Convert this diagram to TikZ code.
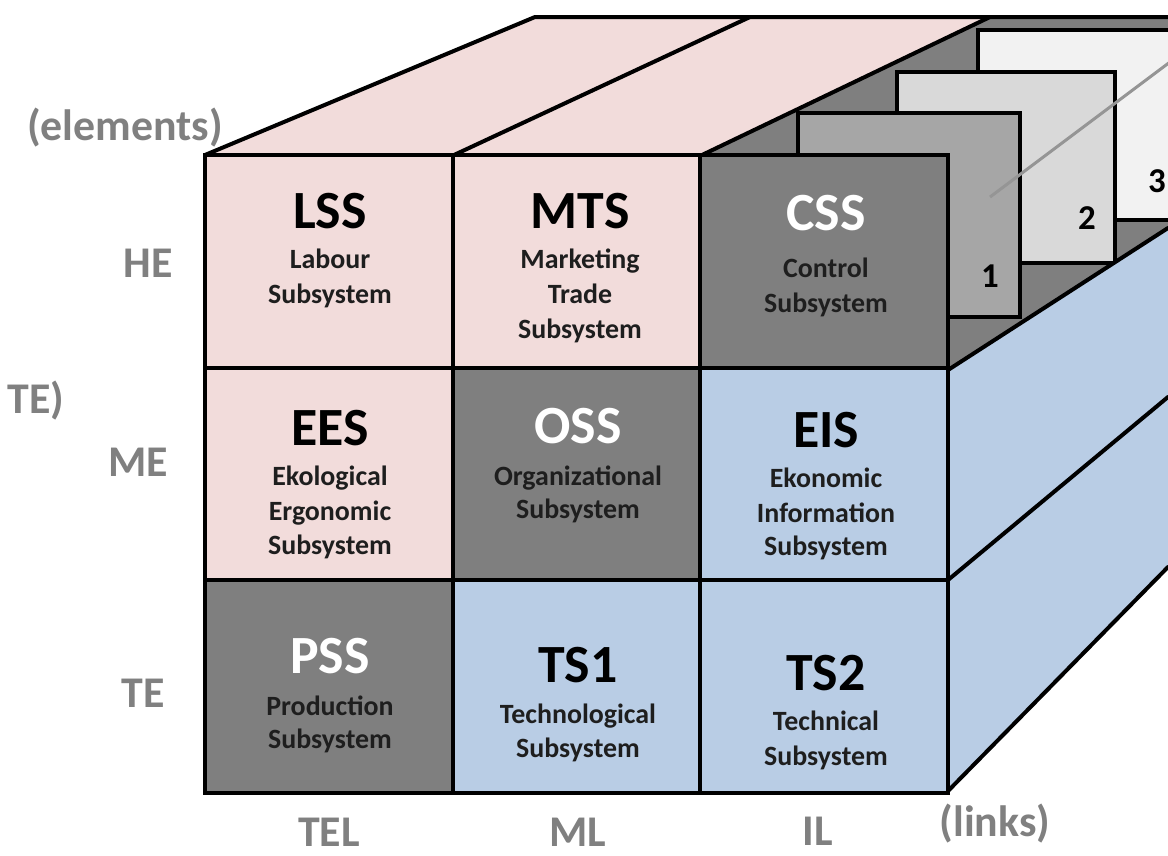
\documentclass[tikz,border=0pt]{standalone}
\usepackage{fontspec}
\setmainfont{Carlito}
\definecolor{pinkface}{HTML}{F2DCDB}
\definecolor{blueface}{HTML}{B9CDE5}
\definecolor{darkface}{HTML}{7F7F7F}
\definecolor{sliceA}{HTML}{A6A6A6}
\definecolor{sliceB}{HTML}{D9D9D9}
\definecolor{sliceC}{HTML}{F2F2F2}
\definecolor{axisgray}{HTML}{808080}
\definecolor{pointer}{HTML}{959595}
\definecolor{subtext}{HTML}{1E1E1E}
\begin{document}
\begin{tikzpicture}[x=1bp,y=-1bp,
  edge/.style={line width=4bp,line join=round,line cap=round},
  cell/.style={draw,line width=4bp,minimum width=247.67bp,minimum height=212.67bp,inner sep=0pt,outer sep=0pt},
  slice/.style={draw,line width=4bp,inner sep=0pt,outer sep=0pt},
  title/.style={anchor=base,font=\fontsize{54}{54}\selectfont\bfseries,inner sep=0pt},
  sub/.style={anchor=base,font=\fontsize{28}{28}\selectfont\bfseries,text=subtext,inner sep=0pt},
  axis/.style={anchor=base,font=\fontsize{44}{44}\selectfont\bfseries,text=axisgray,inner sep=0pt},
  num/.style={anchor=base,font=\fontsize{35}{35}\selectfont\bfseries,inner sep=0pt}]
\useasboundingbox (0,0) rectangle (1168,856);
\clip (0,0) rectangle (1168,856);

% corners of the top face
\coordinate (ftl) at (205,155);
\coordinate (fm1) at (454,155);
\coordinate (fm2) at (702,155);
\coordinate (btl) at (535,17);
\coordinate (bm1) at (750,17);
\coordinate (bm2) at (990,17);
\coordinate (btr) at (1168,17);

% top face (pink part)
\fill[pinkface] (ftl) -- (btl) -- (bm2) -- (fm2) -- cycle;
% recessed dark area of the control column and side
\fill[darkface] (fm2) -- (bm2) -- (btr) -- (1168,228) -- (948,370) -- (702,370) -- cycle;

% stacked slices behind the control subsystem
\node[slice,fill=sliceC,minimum width=222bp,minimum height=190bp] (s3) at (1089,125) {};
\node[slice,fill=sliceB,minimum width=218bp,minimum height=191bp] (s2) at (1006,167.5) {};
\node[slice,fill=sliceA,minimum width=222bp,minimum height=204bp] (s1) at (909,215) {};
\node[num] (n1) at (990,287) {1};
\node[num] (n2) at (1087,229) {2};
\node[num] (n3) at (1157,192) {3};
\coordinate (pa) at (990,197);
\coordinate (pb) at (1170,62);
\draw[pointer,line width=3bp] (pa) -- (pb);

% right side face
\coordinate (r1a) at (948,370);  \coordinate (r1b) at (1168,228);
\coordinate (r2a) at (948,580);  \coordinate (r2b) at (1168,397);
\coordinate (r3a) at (948,791);  \coordinate (r3b) at (1168,567);
\fill[blueface] (r1a) -- (r1b) -- (r3b) -- (r3a) -- cycle;
\draw[edge] (r1a) -- (r1b);
\draw[edge] (r2a) -- (r2b);
\draw[edge] (r3a) -- (r3b);

% top face edges
\draw[edge] (ftl) -- (btl) -- (btr);
\draw[edge] (fm1) -- (bm1);
\draw[edge] (fm2) -- (bm2);
\draw[edge] (990,30) -- (1168,30);

% front grid
\node[cell,fill=pinkface] (lss) at (328.83,261.33) {};
\node[cell,fill=pinkface] (mts) at (576.5,261.33) {};
\node[cell,fill=darkface] (css) at (824.17,261.33) {};
\node[cell,fill=pinkface] (ees) at (328.83,474) {};
\node[cell,fill=darkface] (oss) at (576.5,474) {};
\node[cell,fill=blueface] (eis) at (824.17,474) {};
\node[cell,fill=darkface] (pss) at (328.83,686.67) {};
\node[cell,fill=blueface] (ts1) at (576.5,686.67) {};
\node[cell,fill=blueface] (ts2) at (824.17,686.67) {};

% cell texts
\node[title] (lss-t) at (330,228) {LSS};
\node[sub] (lss-a) at (330,268) {Labour};
\node[sub] (lss-b) at (330,303) {Subsystem};

\node[title] (mts-t) at (580,228) {MTS};
\node[sub] (mts-a) at (580,268) {Marketing};
\node[sub] (mts-b) at (580,303) {Trade};
\node[sub] (mts-c) at (580,338) {Subsystem};

\node[title,text=white] (css-t) at (826,230) {CSS};
\node[sub] (css-a) at (826,277) {Control};
\node[sub] (css-b) at (826,312) {Subsystem};

\node[title] (ees-t) at (330,445) {EES};
\node[sub] (ees-a) at (330,485) {Ekological};
\node[sub] (ees-b) at (330,520) {Ergonomic};
\node[sub] (ees-c) at (330,554) {Subsystem};

\node[title,text=white] (oss-t) at (578,443) {OSS};
\node[sub] (oss-a) at (578,485) {Organizational};
\node[sub] (oss-b) at (578,518) {Subsystem};

\node[title] (eis-t) at (826,447) {EIS};
\node[sub] (eis-a) at (826,487) {Ekonomic};
\node[sub] (eis-b) at (826,522) {Information};
\node[sub] (eis-c) at (826,555) {Subsystem};

\node[title,text=white] (pss-t) at (330,673) {PSS};
\node[sub] (pss-a) at (330,715) {Production};
\node[sub] (pss-b) at (330,748) {Subsystem};

\node[title] (ts1-t) at (578,682) {TS1};
\node[sub] (ts1-a) at (578,723) {Technological};
\node[sub] (ts1-b) at (578,757) {Subsystem};

\node[title] (ts2-t) at (826,690) {TS2};
\node[sub] (ts2-a) at (826,730) {Technical};
\node[sub] (ts2-b) at (826,765) {Subsystem};

% axis labels
\node[axis] (elem) at (125,140) {(elements)};
\node[axis] (he) at (148,277) {HE};
\node[axis] (te2) at (36,413) {TE)};
\node[axis] (me) at (138,476) {ME};
\node[axis] (te) at (143,707) {TE};
\node[axis,text depth=0pt] (tel) at (329,846) {TEL};
\node[axis,text depth=0pt] (ml) at (578,846) {ML};
\node[axis,text depth=0pt] (il) at (818,845) {IL};
\node[axis] (links) at (995,836) {(links)};
\end{tikzpicture}
\end{document}
